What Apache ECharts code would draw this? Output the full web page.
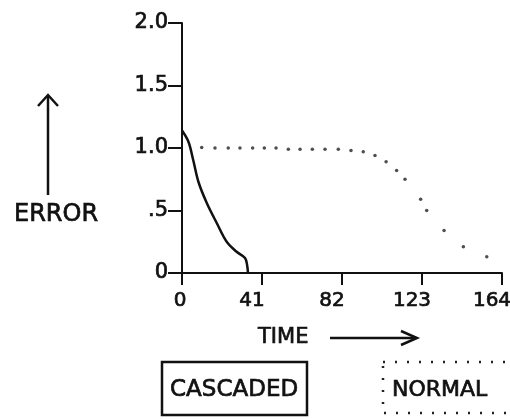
<!DOCTYPE html>
<html>
<head>
<meta charset="utf-8">
<script src="https://cdn.jsdelivr.net/npm/echarts@6/dist/echarts.min.js"></script>
<style>
  html, body { margin: 0; padding: 0; background: #fff; }
  #chart { width: 510px; height: 419px; }
</style>
</head>
<body>
<div id="chart"></div>
<script>
  const cascadedTime = [0, 3.3, 5.8, 8.4, 12.7, 17.8, 22.9, 28.0, 32.3, 33.4, 33.8];
  const cascadedError = [1.14, 1.05, 0.9, 0.73, 0.56, 0.4, 0.25, 0.17, 0.12, 0.06, 0];
  const normalTime = [10.1, 16.9, 23.7, 29.7, 36.2, 42.2, 48.2, 54.5, 60.5, 66.8, 73.3, 80.1,
    86.6, 92.9, 98.9, 104.6, 110, 114.3, 122.3, 125.4, 134.3, 144.2, 156.2];
  const normalError = [1.005, 1.0, 1.0, 1.0, 1.0, 1.0, 1.0, 0.99, 0.99, 0.99, 0.99, 0.99,
    0.98, 0.97, 0.94, 0.89, 0.82, 0.75, 0.59, 0.5, 0.34, 0.21, 0.13];
  const yTickLabels = { 0: '0', 0.5: '.5', 1: '1.0', 1.5: '1.5', 2: '2.0' };

  const ink = '#111';
  const font = 'DejaVu Sans';
  // thicken the glyphs a little, the original is plotter lettering
  const heavy = { textBorderColor: ink, textBorderWidth: 0.7 };

  const myChart = echarts.init(document.getElementById('chart'));
  myChart.setOption({
    backgroundColor: '#fff',
    animation: false,
    grid: {
      left: 182,
      right: 8,
      top: 23,
      bottom: 146,
      containLabel: false,
      outerBoundsMode: 'none',
    },
    xAxis: {
      type: 'value',
      min: 0,
      max: 164,
      interval: 41,
      splitLine: { show: false },
      axisLine: { onZero: false, lineStyle: { color: ink, width: 2 } },
      axisTick: { length: 12, lineStyle: { color: ink, width: 2 } },
      axisLabel: {
        margin: 18,
        color: ink,
        fontFamily: font,
        fontSize: 20,
        formatter(v) {
          return v === 0 ? '{z|0}' : '{n|' + v + '}';
        },
        rich: {
          z: { fontFamily: font, fontSize: 20, color: ink, padding: [0, 4, 0, 0], ...heavy },
          n: { fontFamily: font, fontSize: 20, color: ink, padding: [0, 20, 0, 0], ...heavy },
        },
      },
    },
    yAxis: {
      type: 'value',
      min: 0,
      max: 2,
      interval: 0.5,
      splitLine: { show: false },
      axisLine: { show: true, onZero: false, lineStyle: { color: ink, width: 2 } },
      axisTick: { show: true, length: 14, lineStyle: { color: ink, width: 2 } },
      axisLabel: {
        margin: 14,
        color: ink,
        fontFamily: font,
        fontSize: 21,
        ...heavy,
        formatter(v) {
          return yTickLabels[v];
        },
      },
    },
    series: [
      {
        name: 'CASCADED',
        type: 'line',
        smooth: 0.35,
        showSymbol: false,
        lineStyle: { color: ink, width: 2.5 },
        data: cascadedTime.map((t, i) => [t, cascadedError[i]]),
      },
      {
        name: 'NORMAL',
        type: 'scatter',
        symbolSize: 3.5,
        itemStyle: { color: '#222' },
        data: normalTime.map((t, i) => [t, normalError[i]]),
      },
    ],
    graphic: [
      // ERROR label + up arrow
      { type: 'line', shape: { x1: 48, y1: 96, x2: 48, y2: 195 }, style: { stroke: ink, lineWidth: 2.5 } },
      { type: 'polyline', shape: { points: [[38, 106], [48, 95], [58, 106]] }, style: { stroke: ink, lineWidth: 2.5, fill: null } },
      { type: 'text', style: { text: 'ERROR', x: 14, y: 215, font: '24px "DejaVu Sans"', fill: ink, stroke: ink, lineWidth: 0.7, textVerticalAlign: 'middle' } },
      // TIME label + right arrow
      { type: 'text', style: { text: 'TIME', x: 258, y: 338, font: '21px "DejaVu Sans"', fill: ink, stroke: ink, lineWidth: 0.7, textVerticalAlign: 'middle' } },
      { type: 'line', shape: { x1: 330, y1: 338, x2: 416, y2: 338 }, style: { stroke: ink, lineWidth: 2.5 } },
      { type: 'polyline', shape: { points: [[401, 331], [417, 338], [401, 345]] }, style: { stroke: ink, lineWidth: 2.5, fill: null } },
      // legend boxes
      { type: 'rect', shape: { x: 162, y: 362, width: 145, height: 53 }, style: { stroke: ink, lineWidth: 2.5, fill: null } },
      { type: 'text', style: { text: 'CASCADED', x: 170, y: 390, font: '23px "DejaVu Sans"', fill: ink, stroke: ink, lineWidth: 0.7, textVerticalAlign: 'middle' } },
      { type: 'rect', shape: { x: 383, y: 362, width: 150, height: 51 }, style: { stroke: '#222', lineWidth: 2.5, fill: null, lineDash: [2, 10] } },
      { type: 'text', style: { text: 'NORMAL', x: 392, y: 390, font: '22px "DejaVu Sans"', fill: ink, stroke: ink, lineWidth: 0.7, textVerticalAlign: 'middle' } },
    ],
  });
</script>
</body>
</html>
